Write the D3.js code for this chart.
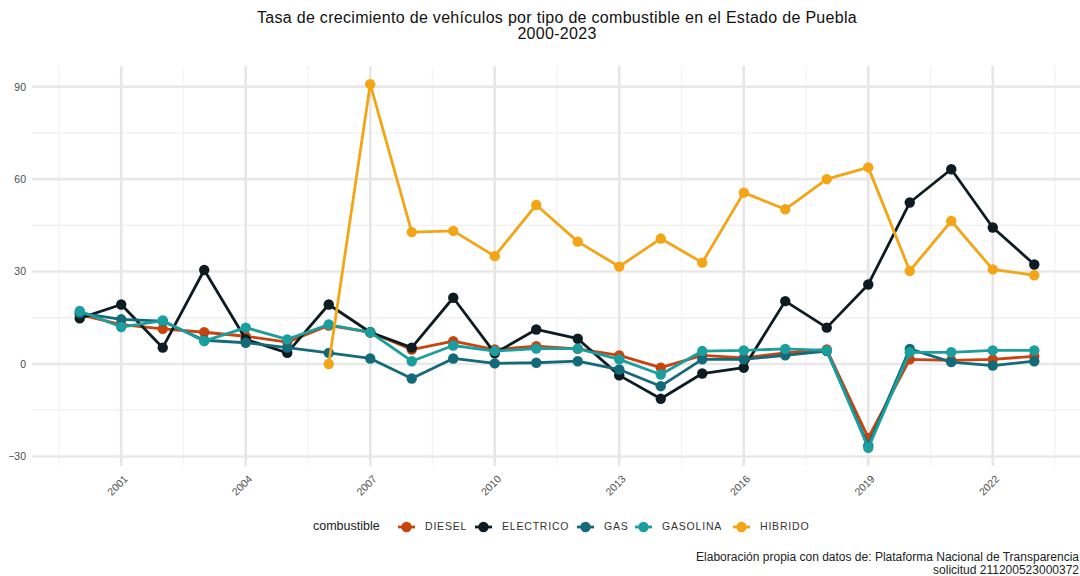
<!DOCTYPE html>
<html>
<head>
<meta charset="utf-8">
<script src="https://cdn.jsdelivr.net/npm/d3@7"></script>
<style>
  html, body { margin: 0; padding: 0; background: #fff; }
  svg { display: block; font-family: "Liberation Sans", Arial, sans-serif; }
</style>
</head>
<body>
<svg id="chart" width="1080" height="576"></svg>
<script>
// Growth rate (%) of registered vehicles by fuel type, Puebla 2000-2023
const years = d3.range(2000, 2024);
const diesel    = [16.0, 12.8, 11.4, 10.3, 9.0, 7.1, 12.5, 10.3, 4.7, 7.4, 4.7, 5.8, 4.9, 2.8, -1.2, 2.8, 2.0, 3.6, 4.7, -24.0, 1.5, 1.2, 1.5, 2.5];
const electrico = [14.8, 19.3, 5.3, 30.5, 8.0, 3.6, 19.3, 10.3, 5.3, 21.5, 3.5, 11.2, 8.2, -3.7, -11.3, -3.1, -1.2, 20.4, 11.8, 25.8, 52.4, 63.2, 44.3, 32.3];
const gas       = [16.5, 14.5, 13.9, 7.7, 6.9, 5.3, 3.6, 1.8, -4.7, 1.8, 0.2, 0.4, 0.9, -1.8, -7.2, 1.5, 1.5, 2.8, 4.2, -26.5, 4.9, 0.6, -0.5, 0.9];
const gasolina  = [17.2, 12.0, 14.1, 7.4, 11.8, 8.0, 12.8, 10.3, 0.9, 6.0, 4.2, 5.0, 5.0, 1.5, -3.4, 4.2, 4.4, 4.9, 4.4, -27.2, 3.8, 3.8, 4.4, 4.4];
const hibrido   = [null, null, null, null, null, null, 0.0, 90.8, 42.8, 43.2, 35.0, 51.6, 39.7, 31.6, 40.7, 32.9, 55.6, 50.2, 60.0, 63.8, 30.2, 46.4, 30.7, 28.8];

const fuels = ["DIESEL", "ELECTRICO", "GAS", "GASOLINA", "HIBRIDO"];
const fuelColors = ["#c8440e", "#0d1b22", "#136a78", "#1b9e9e", "#f4a516"];
const yTicks = [-30, 0, 30, 60, 90];
const xTicks = [2001, 2004, 2007, 2010, 2013, 2016, 2019, 2022];

const seriesValues = [diesel, electrico, gas, gasolina, hibrido];
const series = fuels.map((name, i) => ({
  name,
  color: fuelColors[i],
  points: years.map((yr, j) => ({ year: yr, value: seriesValues[i][j] })).filter(p => p.value !== null)
}));

const svg = d3.select("#chart");

// Panel (extends slightly past the right edge of the canvas)
const panel = { left: 32, right: 1082, top: 66, bottom: 466 };

const allVals = seriesValues.flat().filter(v => v !== null);
const yMin = d3.min(allVals), yMax = d3.max(allVals);
const yPad = (yMax - yMin) * 0.05;
const xPad = (2023 - 2000) * 0.05;

const x = d3.scaleLinear().domain([2000 - xPad, 2023 + xPad]).range([panel.left, panel.right]);
const y = d3.scaleLinear().domain([yMin - yPad, yMax + yPad]).range([panel.bottom, panel.top]);

// Grid: minor lines halfway between the major breaks
const grid = svg.append("g");
const xMinor = [1999.5, 2002.5, 2005.5, 2008.5, 2011.5, 2014.5, 2017.5, 2020.5, 2023.5];
const yMinor = [-15, 15, 45, 75];

grid.selectAll(".xminor").data(xMinor).join("line")
  .attr("x1", d => x(d)).attr("x2", d => x(d))
  .attr("y1", panel.top).attr("y2", panel.bottom)
  .attr("stroke", "#f3f3f3").attr("stroke-width", 1.3);
grid.selectAll(".yminor").data(yMinor).join("line")
  .attr("x1", panel.left).attr("x2", panel.right)
  .attr("y1", d => y(d)).attr("y2", d => y(d))
  .attr("stroke", "#f0f0f0").attr("stroke-width", 1.3);
grid.selectAll(".xmajor").data(xTicks).join("line")
  .attr("x1", d => x(d)).attr("x2", d => x(d))
  .attr("y1", panel.top).attr("y2", panel.bottom)
  .attr("stroke", "#e6e6e6").attr("stroke-width", 2.6);
grid.selectAll(".ymajor").data(yTicks).join("line")
  .attr("x1", panel.left).attr("x2", panel.right)
  .attr("y1", d => y(d)).attr("y2", d => y(d))
  .attr("stroke", "#e8e8e8").attr("stroke-width", 2.6);

// Axes (text only, no domain lines or tick marks)
const yAxis = svg.append("g")
  .attr("transform", `translate(${panel.left},0)`)
  .call(d3.axisLeft(y).tickValues(yTicks).tickSize(0).tickPadding(6).tickFormat(d3.format("d")));
yAxis.select(".domain").remove();
yAxis.selectAll("text").attr("fill", "#4d4d4d").style("font-size", "10.5px")
  .style("font-family", '"Liberation Sans", Arial, sans-serif');

const xAxis = svg.append("g")
  .attr("transform", `translate(0,${panel.bottom})`)
  .call(d3.axisBottom(x).tickValues(xTicks).tickSize(0).tickFormat(d3.format("d")));
xAxis.select(".domain").remove();
xAxis.selectAll("text")
  .attr("fill", "#4d4d4d").style("font-size", "10.5px")
  .style("font-family", '"Liberation Sans", Arial, sans-serif')
  .attr("text-anchor", "end")
  .attr("dy", null).attr("y", null)
  .attr("transform", "translate(1,8) rotate(-45)")
  .attr("dominant-baseline", "hanging");

// Lines and points
const line = d3.line().x(d => x(d.year)).y(d => y(d.value));
const marks = svg.append("g");
series.forEach(s => {
  const g = marks.append("g");
  g.append("path").datum(s.points)
    .attr("d", line)
    .attr("fill", "none")
    .attr("stroke", s.color)
    .attr("stroke-width", 2.8)
    .attr("stroke-linejoin", "round");
  g.selectAll("circle").data(s.points).join("circle")
    .attr("cx", d => x(d.year)).attr("cy", d => y(d.value))
    .attr("r", 5.2)
    .attr("fill", s.color);
});

// Title
const cx = (panel.left + panel.right) / 2;
svg.append("text").attr("x", cx).attr("y", 23).attr("text-anchor", "middle")
  .style("font-size", "16px").style("letter-spacing", "0.3px").attr("fill", "#111")
  .text("Tasa de crecimiento de vehículos por tipo de combustible en el Estado de Puebla");
svg.append("text").attr("x", cx).attr("y", 39).attr("text-anchor", "middle")
  .style("font-size", "16px").style("letter-spacing", "0.3px").attr("fill", "#111")
  .text("2000-2023");

// Legend
const legend = svg.append("g").attr("transform", "translate(313,527)");
legend.append("text").attr("x", 0).attr("y", 0).attr("dominant-baseline", "middle")
  .style("font-size", "12.5px").attr("fill", "#222").text("combustible");
const legendX = [85, 162, 264, 322, 420];
series.forEach((s, i) => {
  const g = legend.append("g").attr("transform", `translate(${legendX[i]},0)`);
  g.append("line").attr("x1", 0).attr("x2", 17).attr("y1", 0).attr("y2", 0)
    .attr("stroke", s.color).attr("stroke-width", 2.8);
  g.append("circle").attr("cx", 8.5).attr("cy", 0).attr("r", 5.2).attr("fill", s.color);
  g.append("text").attr("x", 27).attr("y", 0).attr("dominant-baseline", "middle")
    .style("font-size", "10.5px").style("letter-spacing", "0.8px").attr("fill", "#333").text(s.name);
});

// Caption
svg.append("text").attr("x", 1079).attr("y", 561).attr("text-anchor", "end")
  .style("font-size", "12px").attr("fill", "#222")
  .text("Elaboración propia con datos de: Plataforma Nacional de Transparencia");
svg.append("text").attr("x", 1079).attr("y", 574).attr("text-anchor", "end")
  .style("font-size", "12px").attr("fill", "#222")
  .text("solicitud 211200523000372");
</script>
</body>
</html>
